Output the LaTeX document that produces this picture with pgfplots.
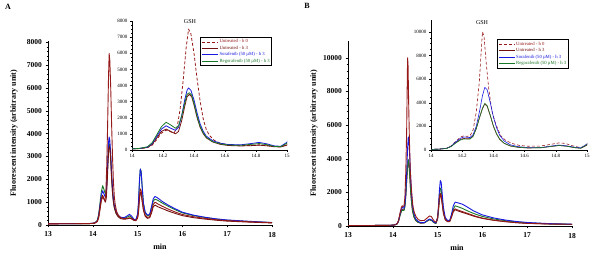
\documentclass[border=0pt]{standalone}
\usepackage{pgfplots}
\usepackage{pgfplotstable}
\pgfplotsset{compat=1.18}
\usepackage{fontspec}
\setmainfont{Liberation Serif}

\definecolor{cred}{RGB}{150,25,25}
\definecolor{cdred}{RGB}{115,15,15}
\definecolor{cblue}{RGB}{25,25,225}
\definecolor{cgreen}{RGB}{25,120,40}

% ---------------- Panel A ----------------
\pgfplotstableread{
t v
13.0 50
13.5 55
13.9 60
14.0 70
14.05 90
14.1 150
14.13 300
14.16 650
14.19 1050
14.22 1230
14.25 1130
14.27 1050
14.29 1350
14.31 2500
14.33 4300
14.35 6400
14.365 7500
14.38 7200
14.40 6000
14.42 4400
14.44 3000
14.46 1900
14.48 1250
14.50 900
14.53 600
14.57 420
14.62 320
14.7 280
14.77 290
14.82 320
14.87 280
14.92 220
14.96 200
15.0 330
15.02 600
15.04 1200
15.06 1580
15.08 1500
15.10 1150
15.13 700
15.17 420
15.22 330
15.27 360
15.31 600
15.35 900
15.39 1000
15.45 920
15.55 820
15.7 680
15.85 560
16.0 460
16.25 360
16.5 290
16.75 230
17.0 190
17.5 140
18.0 100
}\Ahzero
\pgfplotstableread{
t v
13.0 50
13.5 55
13.9 60
14.0 70
14.05 90
14.1 160
14.13 350
14.16 750
14.19 1150
14.22 1300
14.25 1150
14.28 1000
14.30 1150
14.32 1800
14.34 2700
14.355 3300
14.37 3450
14.385 3300
14.40 2800
14.42 2000
14.44 1400
14.46 1000
14.48 750
14.52 500
14.57 350
14.62 280
14.7 250
14.77 270
14.82 300
14.87 260
14.92 200
14.96 190
15.0 300
15.02 550
15.04 1100
15.06 1430
15.08 1350
15.10 1050
15.13 650
15.17 380
15.22 290
15.27 320
15.31 520
15.35 800
15.39 870
15.45 800
15.55 720
15.7 600
15.85 500
16.0 410
16.25 320
16.5 260
16.75 210
17.0 170
17.5 125
18.0 90
}\Ahthree
\pgfplotstableread{
t v
13.0 60
13.5 60
13.9 65
14.0 75
14.05 100
14.1 180
14.13 400
14.16 850
14.19 1300
14.22 1500
14.25 1350
14.28 1220
14.30 1400
14.32 2100
14.34 3100
14.355 3700
14.365 3850
14.38 3700
14.40 3100
14.42 2300
14.44 1600
14.46 1150
14.48 850
14.52 580
14.57 420
14.62 340
14.7 320
14.77 400
14.82 470
14.87 380
14.92 250
14.96 230
15.0 480
15.02 1000
15.04 1900
15.06 2450
15.08 2300
15.10 1700
15.13 950
15.17 560
15.22 430
15.27 470
15.31 800
15.35 1150
15.39 1250
15.45 1180
15.55 1030
15.7 850
15.85 700
16.0 560
16.25 430
16.5 340
16.75 270
17.0 220
17.5 160
18.0 110
}\Asora
\pgfplotstableread{
t v
13.0 55
13.5 55
13.9 60
14.0 70
14.05 100
14.1 200
14.13 450
14.16 950
14.19 1450
14.22 1720
14.25 1550
14.28 1350
14.30 1500
14.32 2100
14.34 2900
14.355 3450
14.37 3550
14.385 3400
14.40 2900
14.42 2100
14.44 1450
14.46 1050
14.48 780
14.52 520
14.57 380
14.62 310
14.7 290
14.77 350
14.82 400
14.87 330
14.92 220
14.96 210
15.0 420
15.02 900
15.04 1800
15.06 2450
15.08 2350
15.10 1750
15.13 950
15.17 520
15.22 400
15.27 440
15.31 750
15.35 1050
15.39 1130
15.45 1080
15.55 960
15.7 800
15.85 660
16.0 530
16.25 410
16.5 330
16.75 260
17.0 210
17.5 150
18.0 105
}\Arego

% ---------------- Panel B ----------------
\pgfplotstableread{
t v
13.0 30
13.5 30
13.9 40
14.0 50
14.05 70
14.1 150
14.13 350
14.16 750
14.19 1100
14.21 1200
14.23 1150
14.25 1200
14.27 1700
14.29 3200
14.31 5800
14.32 8000
14.33 10000
14.34 9600
14.355 7200
14.37 5200
14.39 3300
14.41 2400
14.43 1700
14.45 1150
14.48 800
14.52 550
14.57 380
14.62 320
14.7 330
14.77 480
14.82 600
14.86 560
14.9 380
14.94 250
14.97 230
15.0 500
15.02 1100
15.04 1700
15.06 1950
15.08 1850
15.10 1400
15.13 800
15.17 400
15.22 270
15.27 280
15.31 550
15.35 900
15.39 1020
15.45 950
15.55 860
15.7 720
15.85 580
16.0 470
16.25 350
16.5 270
16.75 200
17.0 160
17.5 120
18.0 100
}\Bhzero
\pgfplotstableread{
t v
13.0 30
13.5 30
13.9 40
14.0 50
14.05 70
14.1 140
14.13 320
14.16 650
14.19 900
14.21 980
14.23 950
14.25 950
14.27 1200
14.29 1800
14.31 2700
14.33 3500
14.345 3900
14.36 3700
14.38 2900
14.40 2000
14.42 1350
14.44 900
14.47 550
14.51 330
14.56 220
14.62 170
14.7 180
14.77 300
14.82 380
14.87 320
14.92 200
14.96 150
15.0 400
15.02 900
15.04 1500
15.06 1850
15.08 1750
15.10 1350
15.13 750
15.17 380
15.22 250
15.27 260
15.31 520
15.35 850
15.39 970
15.45 900
15.55 810
15.7 680
15.85 550
16.0 450
16.25 340
16.5 260
16.75 200
17.0 155
17.5 115
18.0 95
}\Bhthree
\pgfplotstableread{
t v
13.0 30
13.5 30
13.9 40
14.0 50
14.05 70
14.1 140
14.13 320
14.16 700
14.19 1000
14.21 1100
14.23 1080
14.25 1050
14.27 1300
14.29 2000
14.31 3200
14.33 4600
14.345 5300
14.36 5100
14.38 4000
14.40 2800
14.42 1900
14.44 1250
14.47 750
14.51 430
14.56 280
14.62 200
14.7 200
14.77 330
14.82 420
14.87 350
14.92 230
14.96 180
15.0 500
15.02 1200
15.04 2100
15.06 2700
15.08 2600
15.10 2000
15.13 1100
15.17 520
15.22 330
15.27 330
15.31 700
15.35 1200
15.39 1420
15.45 1380
15.55 1300
15.65 1150
15.8 900
16.0 660
16.25 480
16.5 360
16.75 270
17.0 210
17.5 140
18.0 105
}\Bsora
\pgfplotstableread{
t v
13.0 30
13.5 30
13.9 40
14.0 50
14.05 70
14.1 130
14.13 300
14.16 600
14.19 850
14.21 930
14.23 920
14.25 930
14.27 1150
14.29 1800
14.31 2700
14.33 3550
14.345 3950
14.36 3750
14.38 2950
14.40 2050
14.42 1400
14.44 930
14.47 570
14.51 340
14.56 230
14.62 180
14.7 190
14.77 300
14.82 380
14.87 320
14.92 200
14.96 150
15.0 450
15.02 1000
15.04 1800
15.06 2250
15.08 2150
15.10 1650
15.13 900
15.17 450
15.22 280
15.27 290
15.31 600
15.35 1000
15.39 1200
15.45 1150
15.55 1050
15.7 860
15.85 700
16.0 570
16.25 420
16.5 320
16.75 240
17.0 190
17.5 130
18.0 100
}\Brego

\pgfplotsset{
  mainax/.style={
    scale only axis, anchor=south west,
    width=224pt,
    axis x line*=bottom, axis y line*=left,
    xmin=13, xmax=18, ymin=0,
    xtick={13,14,15,16,17,18},
    minor x tick num=4, minor y tick num=4,
    tick align=outside,
    scaled ticks=false,
    major tick length=2.5pt, minor tick length=1.5pt,
    tick style={black, line width=0.4pt},
    axis line style={black, line width=0.5pt},
    /pgf/number format/assume math mode=true,
    /pgf/number format/1000 sep={},
    tick label style={font=\fontsize{7.5}{9}\selectfont\bfseries},
    xticklabel style={yshift=-1pt},
    every axis plot/.append style={line width=0.9pt, line join=round},
  },
  insetax/.style={
    scale only axis, anchor=south west,
    axis x line*=bottom, axis y line*=left,
    xmin=14, xmax=15, ymin=0,
    xtick={14,14.2,14.4,14.6,14.8,15},
    xticklabels={14,14.2,14.4,14.6,14.8,15},
    minor x tick num=3, minor y tick num=3,
    tick align=outside,
    scaled ticks=false,
    major tick length=2pt, minor tick length=1pt,
    tick style={black, line width=0.3pt},
    axis line style={black, line width=0.4pt},
    /pgf/number format/assume math mode=true,
    /pgf/number format/1000 sep={},
    tick label style={font=\fontsize{5}{6}\selectfont},
    xticklabel style={yshift=1pt},
    yticklabel style={xshift=1pt},
    legend cell align=left,
    legend style={draw=black, line width=0.7pt, anchor=north west,
      font=\fontsize{4.7}{5}\selectfont, inner sep=1.2pt, row sep=-0.4pt,
      nodes={inner sep=1pt}},
    legend image code/.code={\draw[#1] (0pt,0pt) -- (16pt,0pt);},
    every axis plot/.append style={line width=0.8pt, line join=round},
  },
}

\begin{document}
\begin{tikzpicture}
\useasboundingbox (0,0) rectangle (600pt,267pt);

% ---- Panel A main ----
\begin{axis}[mainax, at={(48pt,42pt)}, height=184pt, ymax=8050,
  ytick={0,1000,2000,3000,4000,5000,6000,7000,8000}]
\addplot[cgreen] table[x=t,y=v]{\Arego};
\addplot[cblue] table[x=t,y=v]{\Asora};
\addplot[cdred] table[x=t,y=v]{\Ahthree};
\addplot[cred] table[x=t,y=v]{\Ahzero};
\end{axis}

% ---- Panel A inset ----
\begin{axis}[insetax, at={(132pt,117pt)}, width=155pt, height=129pt, ymax=8000,
  ytick={0,1000,2000,3000,4000,5000,6000,7000,8000},
  legend style={at={(0.44,0.875)}}]
\addplot[cred, dashed, dash pattern=on 3pt off 2pt] table[x=t,y=v]{\Ahzero};
\addlegendentry{\textcolor{cred}{Untreated - h 0}}
\addplot[cdred] table[x=t,y=v]{\Ahthree};
\addlegendentry{\textcolor{cdred}{Untreated - h 3}}
\addplot[cblue] table[x=t,y=v]{\Asora};
\addlegendentry{\textcolor{cblue}{Sorafenib (50 µM) - h 3}}
\addplot[cgreen] table[x=t,y=v]{\Arego};
\addlegendentry{\textcolor{cgreen}{Regorafenib (50 µM) - h 3}}
\end{axis}

% ---- Panel B main ----
\begin{axis}[mainax, at={(348pt,41pt)}, height=185pt, ymax=11000,
  ytick={0,2000,4000,6000,8000,10000}]
\addplot[cdred] table[x=t,y=v]{\Bhthree};
\addplot[cgreen] table[x=t,y=v]{\Brego};
\addplot[cblue] table[x=t,y=v]{\Bsora};
\addplot[cred] table[x=t,y=v]{\Bhzero};
\end{axis}

% ---- Panel B inset ----
\begin{axis}[insetax, at={(431pt,117pt)}, width=156pt, height=130pt, ymax=11000,
  ytick={0,2000,4000,6000,8000,10000},
  legend style={at={(0.423,0.85)}},
  every axis plot/.append style={line width=0.6pt}]
\addplot[cred, dashed, dash pattern=on 3pt off 2pt] table[x=t,y=v]{\Bhzero};
\addlegendentry{\textcolor{cred}{Untreated - h 0}}
\addplot[cdred] table[x=t,y=v]{\Bhthree};
\addlegendentry{\textcolor{cdred}{Untreated - h 3}}
\addplot[cblue] table[x=t,y=v]{\Bsora};
\addlegendentry{\textcolor{cblue}{Sorafenib (50 µM) - h 3}}
\addplot[cgreen] table[x=t,y=v]{\Brego};
\addlegendentry{\textcolor{cgreen}{Regorafenib (50 µM) - h 3}}
\end{axis}

% ---- labels ----
\node[font=\fontsize{8}{9}\selectfont\bfseries] at (8pt,260pt) {A};
\node[font=\fontsize{8}{9}\selectfont\bfseries] at (307pt,261pt) {B};
\node[font=\fontsize{6}{7}\selectfont] at (190pt,245pt) {GSH};
\node[font=\fontsize{6}{7}\selectfont] at (482pt,244pt) {GSH};
\node[rotate=90, font=\fontsize{8}{9}\selectfont\bfseries] at (14pt,134pt) {Fluorescent intensity (arbitrary unit)};
\node[rotate=90, font=\fontsize{8}{9}\selectfont\bfseries] at (314pt,134pt) {Fluorescent intensity (arbitrary unit)};
\node[font=\fontsize{8}{9}\selectfont\bfseries] at (160pt,20pt) {min};
\node[font=\fontsize{8}{9}\selectfont\bfseries] at (457pt,19pt) {min};
\end{tikzpicture}
\end{document}
